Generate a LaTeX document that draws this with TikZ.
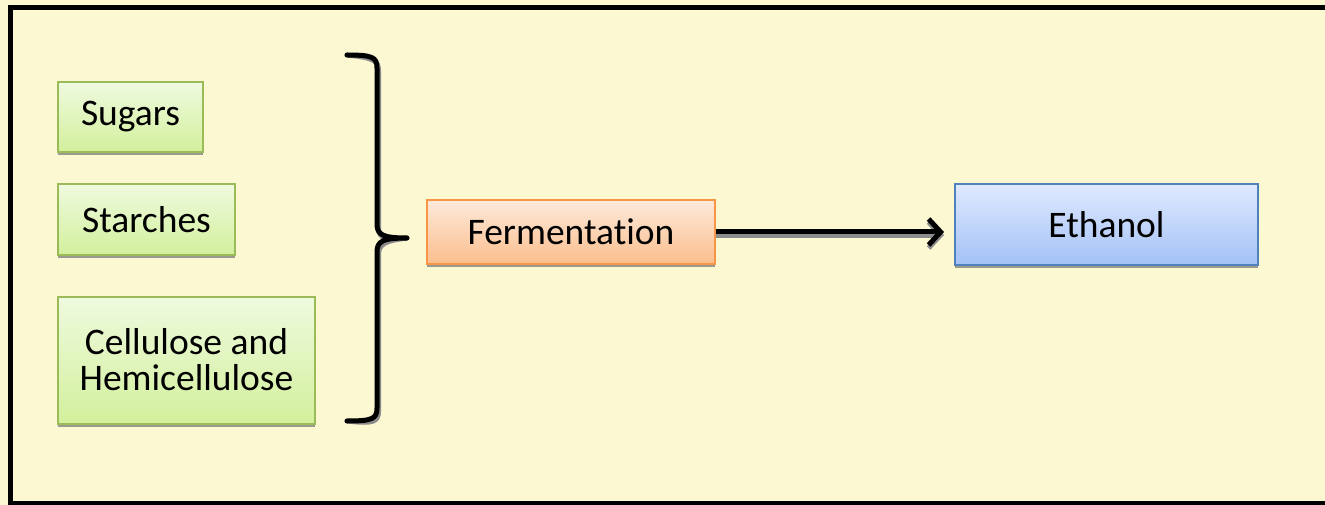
\documentclass[tikz,border=0pt]{standalone}
\usepackage{fontspec}
\setmainfont{Carlito}[Ligatures=NoCommon]
\usetikzlibrary{arrows.meta,shadows}
\definecolor{pagebg}{HTML}{FCF8D2}
\definecolor{grntop}{HTML}{EFFADF}
\definecolor{grnbot}{HTML}{D2F09C}
\definecolor{grnline}{HTML}{9BBB59}
\definecolor{orgtop}{HTML}{FDE9DA}
\definecolor{orgbot}{HTML}{FBBE8D}
\definecolor{orgline}{HTML}{F79646}
\definecolor{blutop}{HTML}{DFE9FF}
\definecolor{blubot}{HTML}{A4C2F6}
\definecolor{bluline}{HTML}{4F81BD}
\tikzset{
  box/.style={draw, line width=2pt, inner sep=0pt, align=center,
    font=\fontsize{37.5}{36}\selectfont,
    drop shadow={shadow xshift=0pt, shadow yshift=-3pt, fill=black!55, opacity=.7}},
  source/.style={box, draw=grnline, top color=grntop, bottom color=grnbot},
  process/.style={box, draw=orgline, top color=orgtop, bottom color=orgbot},
  product/.style={box, draw=bluline, top color=blutop, bottom color=blubot},
  thick stroke/.style={line width=5pt, line cap=round, line join=round},
  shade stroke/.style={thick stroke, draw=black!45},
}
\begin{document}
\begin{tikzpicture}[x=1pt, y=-1pt]
  \useasboundingbox (0,0) rectangle (1325,505);
  % page background and frame (open on the right, where the page is cut)
  \fill[pagebg] (0,0) rectangle (1325,505);
  \draw[line width=5pt, line join=miter] (1325,7.5) -- (10.5,7.5) -- (10.5,503) -- (1325,503);

  % feedstocks
  \node[source, minimum width=145pt, minimum height=70pt] (sugars) at (130.5,117) {Sugars};
  \node[source, minimum width=177pt, minimum height=71pt] (starch) at (146.5,219.5) {Starches};
  \node[source, minimum width=257pt, minimum height=127pt] (cell) at (186.5,360) {Cellulose and\\Hemicellulose};

  % brace gathering the feedstocks
  \coordinate (btop) at (347,55);
  \coordinate (btip) at (407,238);
  \coordinate (bbot) at (347,421);
  \begin{scope}[shift={(1.5,3)}]
    \draw[shade stroke] (btop) .. controls (372,55) and (377,57) .. (377,68) -- (377,224)
      .. controls (377,235) and (383,238) .. (btip)
      .. controls (383,238) and (377,241) .. (377,252) -- (377,408)
      .. controls (377,419) and (372,421) .. (bbot);
  \end{scope}
  \draw[thick stroke] (btop) .. controls (372,55) and (377,57) .. (377,68) -- (377,224)
    .. controls (377,235) and (383,238) .. (btip)
    .. controls (383,238) and (377,241) .. (377,252) -- (377,408)
    .. controls (377,419) and (372,421) .. (bbot);

  % process and product
  \node[process, minimum width=288pt, minimum height=64pt] (ferm) at (571,232) {Fermentation};
  \node[product, minimum width=303pt, minimum height=80pt] (eth) at (1106.5,224.5) {Ethanol};

  % conversion arrow
  \coordinate (arrend) at (ferm.east -| eth.west);
  \draw[shade stroke, line cap=butt, -{Straight Barb[length=12pt, width=26pt]},
        shorten >=10pt, transform canvas={yshift=-3pt}] (ferm.east) -- (arrend);
  \draw[thick stroke, line cap=butt, -{Straight Barb[length=12pt, width=26pt]},
        shorten >=10pt] (ferm.east) -- (arrend);
\end{tikzpicture}
\end{document}
